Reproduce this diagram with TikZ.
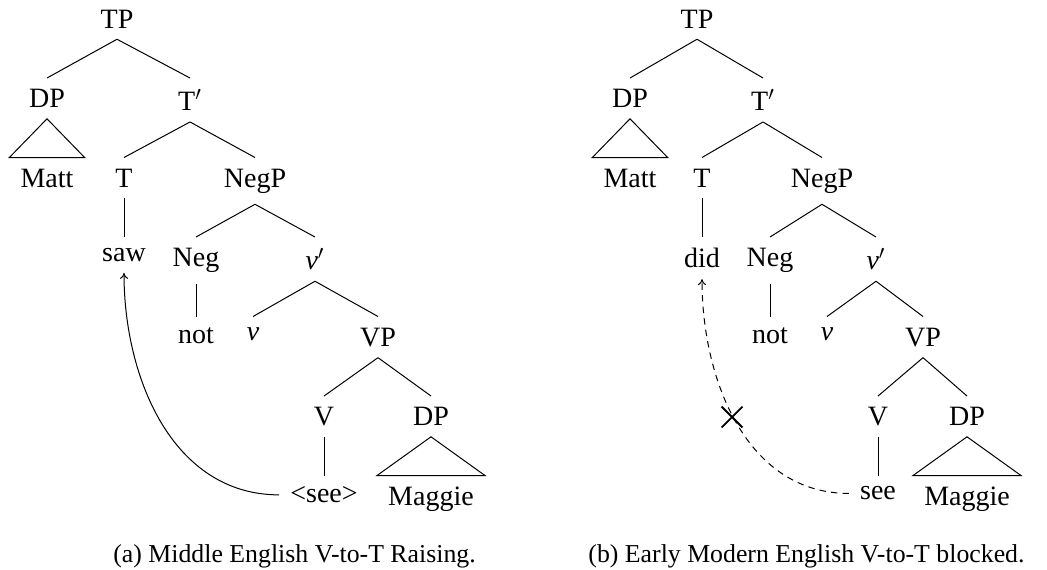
\documentclass[tikz,border=0pt]{standalone}
\usepackage{fontspec}
\setmainfont{Liberation Serif}
\usetikzlibrary{shapes.misc,arrows.meta}
\begin{document}
\begin{tikzpicture}[x=0.5pt,y=-0.5pt,
  lab/.style={anchor=north, inner xsep=5.4pt, inner ysep=5.4pt, font=\fontsize{14}{16}\selectfont},
  edge/.style={line width=0.5pt},
  mv/.style={line width=0.5pt, -{To[length=3pt,width=4pt]}},
  dsh/.style={dash pattern=on 3.2pt off 2.6pt},
  capt/.style={anchor=base west, inner sep=0pt, font=\fontsize{12.9}{15}\selectfont},
  xmark/.style={cross out, draw, line width=0.9pt, minimum size=9.5pt, inner sep=0pt}]
\useasboundingbox (0,0) rectangle (1047,569);

% ---------- left tree ----------
\node[lab] (aTP) at (117,-1.5) {TP};
\node[lab] (aDP) at (47,78) {DP};
\node[lab] (aTb) at (190,78) {T$'$};
\node[lab] (aMatt) at (47,157.5) {Matt};
\node[lab] (aT) at (124,157.5) {T};
\node[lab] (aNegP) at (255,157.5) {NegP};
\node[lab] (asaw) at (124,237) {saw};
\node[lab] (aNeg) at (196,237) {Neg};
\node[lab] (avb) at (315,237) {\textit{v}$'$};
\node[lab] (anot) at (196,316.5) {not};
\node[lab] (av) at (253,316.5) {\textit{v}};
\node[lab] (aVP) at (378,316.5) {VP};
\node[lab] (aV) at (324,396) {V};
\node[lab] (aDPb) at (431,396) {DP};
\node[lab] (asee) at (324,475.5) {<see>};
\node[lab] (aMaggie) at (431,475.5) {Maggie};

\draw[edge] (aTP.south) -- (aDP.north);
\draw[edge] (aTP.south) -- (aTb.north);
\draw[edge] (aDP.south) -- (aMatt.north west) -- (aMatt.north east) -- cycle;
\draw[edge] (aTb.south) -- (aT.north);
\draw[edge] (aTb.south) -- (aNegP.north);
\draw[edge] (aT.south) -- (asaw.north);
\draw[edge] (aNegP.south) -- (aNeg.north);
\draw[edge] (aNegP.south) -- (avb.north);
\draw[edge] (aNeg.south) -- (anot.north);
\draw[edge] (avb.south) -- (av.north);
\draw[edge] (avb.south) -- (aVP.north);
\draw[edge] (aVP.south) -- (aV.north);
\draw[edge] (aVP.south) -- (aDPb.north);
\draw[edge] (aV.south) -- (asee.north);
\draw[edge] (aDPb.south) -- (aMaggie.north west) -- (aMaggie.north east) -- cycle;
\draw[mv] (asee.west) to[out=180,in=-90] (asaw.south);

% ---------- right tree ----------
\node[lab] (bTP) at (697,-1.5) {TP};
\node[lab] (bDP) at (630,78) {DP};
\node[lab] (bTb) at (763,78) {T$'$};
\node[lab] (bMatt) at (630,157.5) {Matt};
\node[lab] (bT) at (702,157.5) {T};
\node[lab] (bNegP) at (822,157.5) {NegP};
\node[lab] (bdid) at (702,237) {did};
\node[lab] (bNeg) at (770,237) {Neg};
\node[lab] (bvb) at (876,237) {\textit{v}$'$};
\node[lab] (bnot) at (770,316.5) {not};
\node[lab] (bv) at (827,316.5) {\textit{v}};
\node[lab] (bVP) at (923,316.5) {VP};
\node[lab] (bV) at (878,396) {V};
\node[lab] (bDPb) at (967,396) {DP};
\node[lab] (bsee) at (878,475.5) {see};
\node[lab] (bMaggie) at (967,475.5) {Maggie};

\draw[edge] (bTP.south) -- (bDP.north);
\draw[edge] (bTP.south) -- (bTb.north);
\draw[edge] (bDP.south) -- (bMatt.north west) -- (bMatt.north east) -- cycle;
\draw[edge] (bTb.south) -- (bT.north);
\draw[edge] (bTb.south) -- (bNegP.north);
\draw[edge] (bT.south) -- (bdid.north);
\draw[edge] (bNegP.south) -- (bNeg.north);
\draw[edge] (bNegP.south) -- (bvb.north);
\draw[edge] (bNeg.south) -- (bnot.north);
\draw[edge] (bvb.south) -- (bv.north);
\draw[edge] (bvb.south) -- (bVP.north);
\draw[edge] (bVP.south) -- (bV.north);
\draw[edge] (bVP.south) -- (bDPb.north);
\draw[edge] (bV.south) -- (bsee.north);
\draw[edge] (bDPb.south) -- (bMaggie.north west) -- (bMaggie.north east) -- cycle;
\draw[mv,dsh] (bsee.west) to[out=180,in=-90] (bdid.south);
\node[xmark] (blk) at (732,417) {};

% ---------- captions ----------
\node[capt] (capa) at (113,562) {(a) Middle English V-to-T Raising.};
\node[capt] (capb) at (588,562) {(b) Early Modern English V-to-T blocked.};
\end{tikzpicture}
\end{document}
